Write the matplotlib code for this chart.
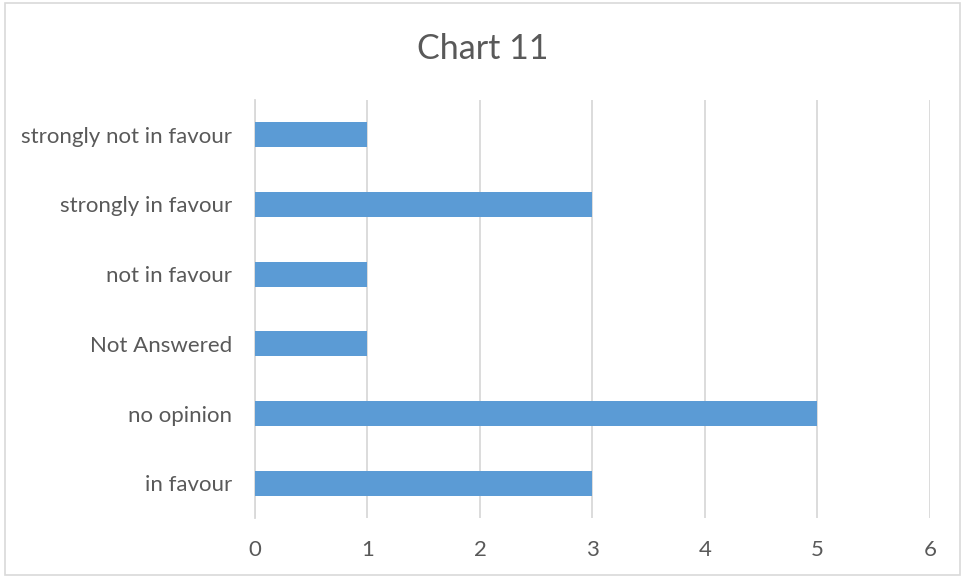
import matplotlib
matplotlib.use("Agg")
import matplotlib.pyplot as plt
from matplotlib.patches import Rectangle

categories = ["in favour", "no opinion", "Not Answered", "not in favour",
              "strongly in favour", "strongly not in favour"]
counts = [3, 5, 1, 1, 3, 1]
x_ticks = [0, 1, 2, 3, 4, 5, 6]

plt.rcParams['font.family'] = ['Lato', 'DejaVu Sans']
text_color = "#595959"

fig = plt.figure(figsize=(9.65, 5.78), dpi=100)
ax = fig.add_axes([0.2642, 0.1038, 0.6995, 0.7232])

ax.barh(range(len(categories)), counts, height=0.36, color="#5B9BD5", zorder=3)

ax.set_xlim(0, 6)
ax.set_ylim(-0.5, len(categories) - 0.5)
ax.set_xticks(x_ticks)
ax.set_yticks(range(len(categories)))
ax.set_yticklabels(categories)
ax.grid(axis="x", color="#D9D9D9", linewidth=1.3, zorder=0)
ax.tick_params(axis="both", length=0, labelsize=16, colors=text_color)
ax.tick_params(axis="x", pad=16)
ax.tick_params(axis="y", pad=16.5)
for side in ["top", "right", "bottom"]:
    ax.spines[side].set_visible(False)
ax.spines["left"].set_color("#D9D9D9")
ax.spines["left"].set_linewidth(1.3)

fig.text(0.5, 0.915, "Chart 11", ha="center", va="center",
         fontsize=24.5, color=text_color)

# outer chart border
fig.patches.append(Rectangle((0.005, 0.006), 0.99, 0.988, transform=fig.transFigure,
                             fill=False, edgecolor="#D9D9D9", linewidth=1.2))

fig.savefig("out.png", dpi=100)
